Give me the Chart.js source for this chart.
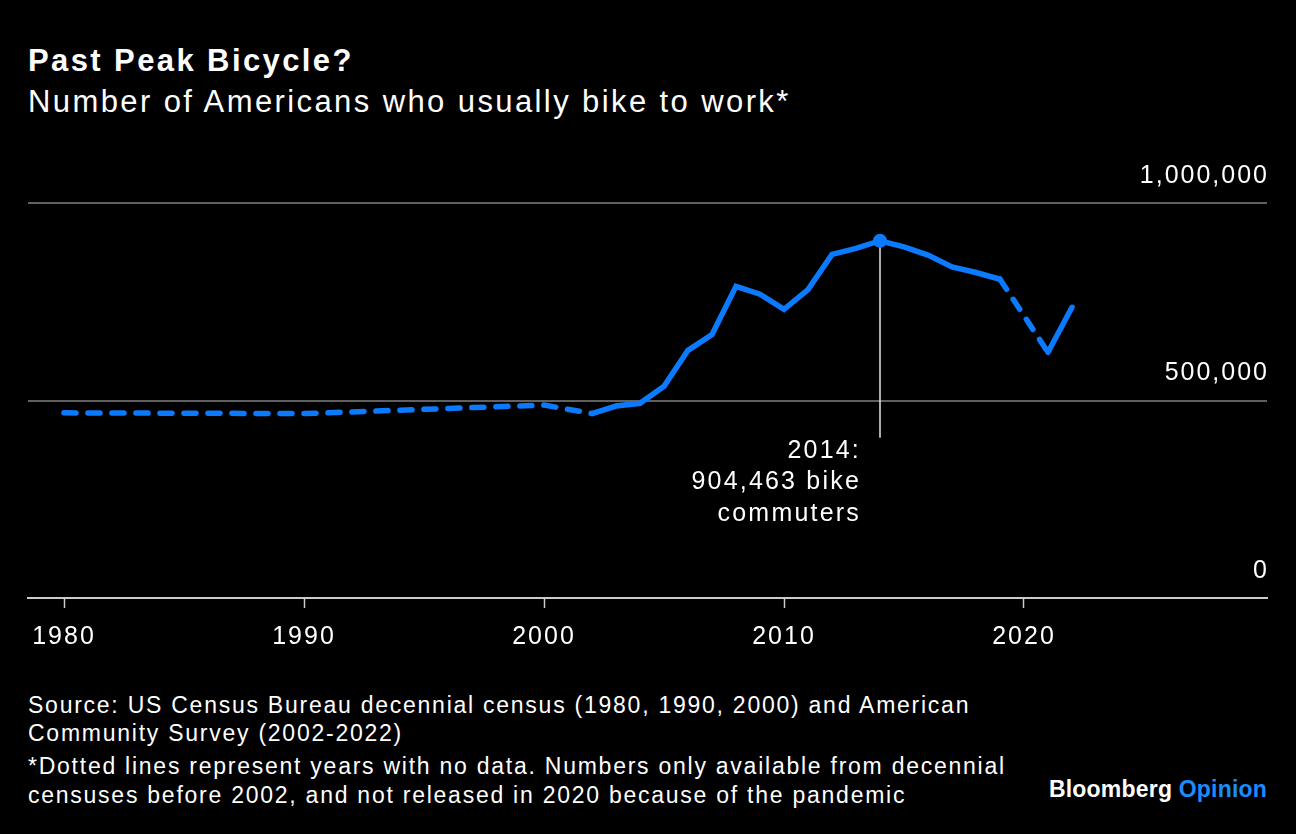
<!DOCTYPE html>
<html>
<head>
<meta charset="utf-8">
<script src="https://cdn.jsdelivr.net/npm/chart.js@4"></script>
<style>
  html, body { margin: 0; padding: 0; background: #000; }
  body { width: 1296px; height: 834px; position: relative; overflow: hidden; font-family: "Liberation Sans", Arial, sans-serif; color: #fff; }
  .title { position: absolute; left: 28px; top: 43px; font-size: 31px; font-weight: bold; letter-spacing: 2.4px; }
  .subtitle { position: absolute; left: 28px; top: 84px; font-size: 31px; letter-spacing: 2.4px; }
  .chart-wrap { position: absolute; left: 0; top: 140px; width: 1296px; height: 536px; }
  .footer { position: absolute; left: 28px; top: 691px; font-size: 23px; letter-spacing: 1.75px; }
  .footer p { margin: 0; }
  .footer .src { line-height: 28px; }
  .footer .note { line-height: 29px; margin-top: 5px; }
  .brand { position: absolute; right: 29px; top: 776px; font-size: 23px; font-weight: bold; letter-spacing: 0.2px; }
  .brand span { color: #1a8cff; }
</style>
</head>
<body>
<div class="title">Past Peak Bicycle?</div>
<div class="subtitle">Number of Americans who usually bike to work*</div>
<div class="chart-wrap"><canvas id="chart"></canvas></div>
<div class="footer">
  <p class="src">Source: US Census Bureau decennial census (1980, 1990, 2000) and American<br>Community Survey (2002-2022)</p>
  <p class="note">*Dotted lines represent years with no data. Numbers only available from decennial<br>censuses before 2002, and not released in 2020 because of the pandemic</p>
</div>
<div class="brand">Bloomberg <span>Opinion</span></div>
<script>
// datos
const years = [1980, 1990, 2000, 2002, 2003, 2004, 2005, 2006, 2007, 2008, 2009, 2010, 2011,
               2012, 2013, 2014, 2015, 2016, 2017, 2018, 2019, 2021, 2022];
const commuters = [468700, 466856, 488497, 467000, 486000, 493000, 536000, 627000, 667000, 789000,
                   769000, 731000, 781000, 870000, 885000, 904463, 889000, 868000, 838000, 824000,
                   807000, 622000, 736000];
const xTicks = [1980, 1990, 2000, 2010, 2020];
const yTicks = [0, 500000, 1000000];
const peakYear = 2014;
const noteLines = ['2014:', '904,463 bike', 'commuters'];

const lineColor = '#0a7bff';
const fontFamily = '"Liberation Sans", Arial, sans-serif';
const peakIndex = years.indexOf(peakYear);

// Espaciado de letras para el texto del canvas
const spacing = {
    id: 'spacing',
    beforeDraw(chart) {
        chart.ctx.letterSpacing = '2px';
    }
};

// Anotación del pico: línea vertical y texto
const peakNote = {
    id: 'peakNote',
    beforeDatasetsDraw(chart) {
        const ctx = chart.ctx;
        const x = chart.scales.x.getPixelForValue(peakYear);
        const y = chart.scales.y.getPixelForValue(commuters[peakIndex]);
        ctx.save();
        ctx.strokeStyle = '#e6e6e6';
        ctx.lineWidth = 1.5;
        ctx.beginPath();
        ctx.moveTo(x, y);
        ctx.lineTo(x, y + 197);
        ctx.stroke();
        ctx.fillStyle = '#fff';
        ctx.font = '25px ' + fontFamily;
        ctx.letterSpacing = '2.2px';
        ctx.textAlign = 'right';
        ctx.textBaseline = 'middle';
        noteLines.forEach((t, i) => ctx.fillText(t, x - 19, y + 210 + i * 31.5));
        ctx.restore();
    }
};

new Chart(document.getElementById('chart'), {
    type: 'line',
    data: {
        datasets: [{
            data: years.map((yr, i) => ({ x: yr, y: commuters[i] })),
            borderColor: lineColor,
            backgroundColor: lineColor,
            borderWidth: 5.5,
            borderCapStyle: 'round',
            pointRadius: ctx => (ctx.dataIndex === peakIndex ? 7 : 0),
            pointBorderWidth: 0,
            tension: 0,
            segment: {
                // tramos sin datos intermedios van punteados
                borderDash: ctx => (ctx.p1.parsed.x - ctx.p0.parsed.x > 1 ? [12, 12] : undefined)
            }
        }]
    },
    options: {
        responsive: true,
        maintainAspectRatio: false,
        animation: false,
        layout: { padding: { left: 28, right: 25, top: 63, bottom: 10 } },
        plugins: { legend: { display: false }, tooltip: { enabled: false } },
        scales: {
            x: {
                type: 'linear',
                min: 1978.5,
                max: 2030.125,
                afterBuildTicks: axis => { axis.ticks = xTicks.map(v => ({ value: v })); },
                grid: { drawOnChartArea: false, drawTicks: true, tickLength: 10, tickColor: '#cccccc', tickWidth: 1.5 },
                border: { display: true, color: '#cccccc', width: 2 },
                ticks: {
                    color: '#fff',
                    padding: 14,
                    font: { family: fontFamily, size: 25 },
                    callback: v => String(v)
                }
            },
            y: {
                position: 'right',
                min: 0,
                max: 1000000,
                afterBuildTicks: axis => { axis.ticks = yTicks.map(v => ({ value: v })); },
                grid: {
                    drawTicks: false,
                    color: ctx => (ctx.tick && ctx.tick.value === 0 ? 'rgba(0,0,0,0)' : '#606060'),
                    lineWidth: 2
                },
                border: { display: false },
                ticks: {
                    mirror: true,
                    padding: 2,
                    labelOffset: -27,
                    color: '#fff',
                    font: { family: fontFamily, size: 25 },
                    callback: v => v.toLocaleString('en-US')
                }
            }
        }
    },
    plugins: [spacing, peakNote]
});
</script>
</body>
</html>
